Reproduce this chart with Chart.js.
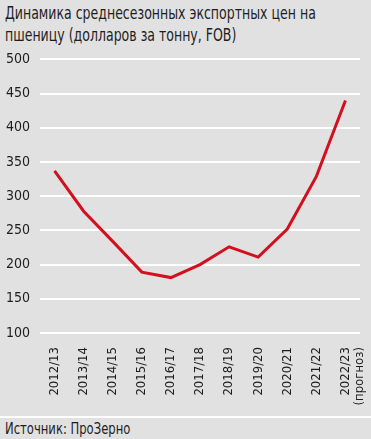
<!DOCTYPE html>
<html>
<head>
<meta charset="utf-8">
<script src="https://cdn.jsdelivr.net/npm/chart.js@4"></script>
<style>
  html, body { margin: 0; padding: 0; }
  body { width: 371px; height: 439px; background: #e1e1e1; position: relative; overflow: hidden;
         font-family: 'DejaVu Sans Condensed', 'DejaVu Sans', sans-serif; color: #1e1e1e; }
  #title { position: absolute; left: 5px; top: 2px; font-size: 17px; line-height: 22px; white-space: nowrap;
           transform: scaleX(0.82); transform-origin: 0 0; }
  #wrap { position: absolute; left: 0; top: 41px; width: 371px; height: 372px; }
  #source { position: absolute; left: 0; top: 416px; width: 371px; height: 23px; border-top: 2px solid #fff; box-sizing: border-box; }
  #source span { position: absolute; left: 5px; top: 1px; font-size: 15px; line-height: 20px; white-space: nowrap;
                 transform: scaleX(0.86); transform-origin: 0 0; }
</style>
</head>
<body>
<div id="title">Динамика среднесезонных экспортных цен на<br>пшеницу (долларов за тонну, FOB)</div>
<div id="wrap"><canvas id="grafico"></canvas></div>
<div id="source"><span>Источник: ПроЗерно</span></div>
<script>
const seasons = ['2012/13', '2013/14', '2014/15', '2015/16', '2016/17', '2017/18',
                 '2018/19', '2019/20', '2020/21', '2021/22', ['2022/23', '(прогноз)']];
const prices = [337, 278, 234, 189, 181, 200, 226, 211, 252, 329, 440];
const yMin = 100, yMax = 500, yStep = 50;

const fontFamily = "'DejaVu Sans Condensed', 'DejaVu Sans', sans-serif";

const ctx = document.getElementById('grafico').getContext('2d');
new Chart(ctx, {
    type: 'line',
    data: {
        labels: seasons,
        datasets: [{ data: prices, borderColor: '#d2101f', borderWidth: 3, pointRadius: 0, tension: 0, fill: false }]
    },
    options: {
        responsive: true,
        maintainAspectRatio: false,
        animation: false,
        layout: { padding: { left: 0, right: 11, top: 12, bottom: 0 } },
        plugins: { legend: { display: false }, tooltip: { enabled: false } },
        scales: {
            x: {
                offset: true,
                grid: { display: false, drawTicks: false },
                border: { display: false },
                afterFit: (scale) => { scale.paddingLeft = 0; scale.paddingRight = 0; scale.height = 80; },
                ticks: { color: '#1e1e1e', font: { family: fontFamily, size: 13, lineHeight: 1.1 }, minRotation: 90, maxRotation: 90, autoSkip: false, padding: 14 }
            },
            y: {
                min: yMin,
                max: yMax,
                afterFit: (scale) => { scale.width = 40; },
                grid: { color: '#ffffff', lineWidth: 2, drawTicks: false },
                border: { display: false },
                ticks: { stepSize: yStep, color: '#1e1e1e', font: { family: fontFamily, size: 14 }, padding: 10 }
            }
        }
    }
});
</script>
</body>
</html>
